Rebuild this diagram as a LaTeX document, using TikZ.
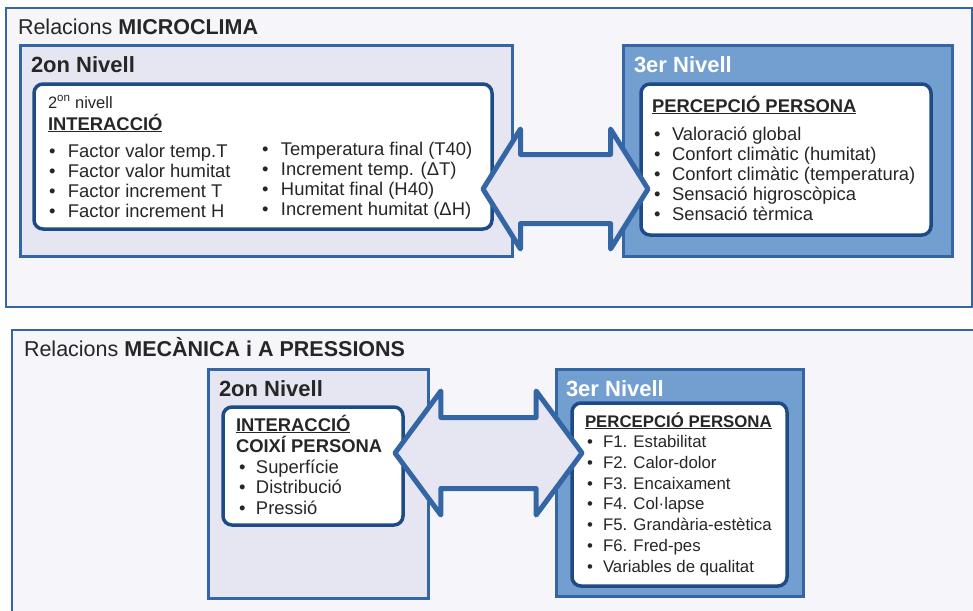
\documentclass[tikz,border=0pt]{standalone}
\usepackage{fontspec}
\setmainfont{Liberation Sans}
\usetikzlibrary{positioning,shapes.arrows}
\definecolor{pagefill}{HTML}{F5F5FA}
\definecolor{lavender}{HTML}{E6E6F2}
\definecolor{skyblue}{HTML}{729FCF}
\definecolor{frameblue}{HTML}{3465A4}
\definecolor{darkblue}{HTML}{1E4A87}
\definecolor{ink}{HTML}{262626}

\newcommand\bul[1][19pt]{\makebox[#1][l]{\textbullet}}

\begin{document}
\begin{tikzpicture}[x=1pt, y=-1pt,
  every node/.style={inner sep=0pt, outer sep=0pt, text=ink},
  frame/.style={draw=frameblue, line width=2.5pt, fill=pagefill, anchor=north west},
  levelbox/.style={draw=frameblue, line width=3pt, fill=lavender, anchor=north west},
  levelthree/.style={levelbox, fill=skyblue},
  card/.style={draw=darkblue, line width=3.5pt, fill=white, rounded corners=9pt, anchor=north west},
  title/.style={anchor=base west, font=\fontsize{21.5}{24}\selectfont},
  levelhead/.style={anchor=base west, font=\fontsize{22}{24}\selectfont\bfseries},
  % lists are placed by the baseline of their last line
  body/.style={anchor=base west, align=left, font=\fontsize{18.4}{20}\selectfont},
  bodyhead/.style={anchor=base west, align=left, font=\fontsize{18.4}{21}\selectfont\bfseries},
  small/.style={anchor=base west, align=left, font=\fontsize{16.8}{20.67}\selectfont},
  smallhead/.style={anchor=base west, font=\fontsize{16.8}{20}\selectfont\bfseries},
  link/.style={double arrow, draw=frameblue, fill=lavender, line width=5pt, line join=round,
               double arrow head indent=0pt, inner xsep=0pt}
]
  \useasboundingbox (0,0) rectangle (973,610);
  \clip (0,0) rectangle (973,610);

  % microclima
  \node[frame, minimum width=966pt, minimum height=299pt] (micro) at (6,8) {};
  \node[title] (microtitle) at (18,35) {Relacions \textbf{MICROCLIMA}};

  \node[levelbox, minimum width=492pt, minimum height=210pt] (microtwo) at (20,46) {};
  \node[levelhead] (microtwohead) at (31,72) {2on Nivell};
  \node[card, minimum width=458pt, minimum height=145pt] (microint) at (34,84) {};
  \node[anchor=base west, font=\fontsize{16.5}{20}\selectfont] (microsub) at (48,108) {2\textsuperscript{on} nivell};
  \node[bodyhead] (microinthead) at (48,130) {\underline{INTERACCIÓ}};
  \node[body] (microfactors) at (49,217) {%
    \bul Factor valor temp.T\\
    \bul Factor valor humitat\\
    \bul Factor increment T\\
    \bul Factor increment H};
  \node[body] (microvalues) at (262,215) {%
    \bul Temperatura final (T40)\\
    \bul Increment temp. (ΔT)\\
    \bul Humitat final (H40)\\
    \bul Increment humitat (ΔH)};

  \node[levelthree, minimum width=329pt, minimum height=210pt] (microthree) at (623,46) {};
  \node[levelhead, text=white] (microthreehead) at (634,72) {3er Nivell};
  \node[card, minimum width=290pt, minimum height=151pt] (microperc) at (641,84) {};
  \node[bodyhead] (microperchead) at (652,112) {\underline{PERCEPCIÓ PERSONA}};
  \node[body] (microlist) at (654,220) {%
    \bul[18pt]Valoració global\\
    \bul[18pt]Confort climàtic (humitat)\\
    \bul[18pt]Confort climàtic (temperatura)\\
    \bul[18pt]Sensació higroscòpica\\
    \bul[18pt]Sensació tèrmica};

  \node[link, inner ysep=32pt, minimum height=165pt, double arrow tip angle=116,
        double arrow head extend=25.5pt] (microlink) at (565.5,189) {};

  % mecanica
  \node[frame, minimum width=980pt, minimum height=300pt] (mech) at (12,330) {};
  \node[title] (mechtitle) at (24,356) {Relacions \textbf{MECÀNICA i A PRESSIONS}};

  \node[levelbox, minimum width=220pt, minimum height=229pt] (mechtwo) at (208,369) {};
  \node[levelhead] (mechtwohead) at (219,396) {2on Nivell};
  \node[card, minimum width=180pt, minimum height=118pt] (mechint) at (223,407) {};
  \node[bodyhead] (mechinthead) at (236,452) {\underline{INTERACCIÓ}\\COIXÍ PERSONA};
  \node[body, font=\fontsize{18.4}{20.5}\selectfont] (mechfactors) at (239,514) {%
    \bul[17pt]Superfície\\
    \bul[17pt]Distribució\\
    \bul[17pt]Pressió};

  \node[levelthree, minimum width=247pt, minimum height=227pt] (mechthree) at (556,369) {};
  \node[levelhead, text=white] (mechthreehead) at (566,396) {3er Nivell};
  \node[card, minimum width=215pt, minimum height=183pt] (mechperc) at (572,403) {};
  \node[smallhead] (mechperchead) at (585,427) {\underline{PERCEPCIÓ PERSONA}};
  \node[small] (mechlist) at (587,572) {%
    \bul[16pt]F1. Estabilitat\\
    \bul[16pt]F2. Calor-dolor\\
    \bul[16pt]F3. Encaixament\\
    \bul[16pt]F4. Col·lapse\\
    \bul[16pt]F5. Grandària-estètica\\
    \bul[16pt]F6. Fred-pes\\
    \bul[16pt]Variables de qualitat};

  \node[link, inner ysep=33pt, minimum height=187pt, double arrow tip angle=107,
        double arrow head extend=26.5pt] (mechlink) at (488.5,453) {};
\end{tikzpicture}
\end{document}
